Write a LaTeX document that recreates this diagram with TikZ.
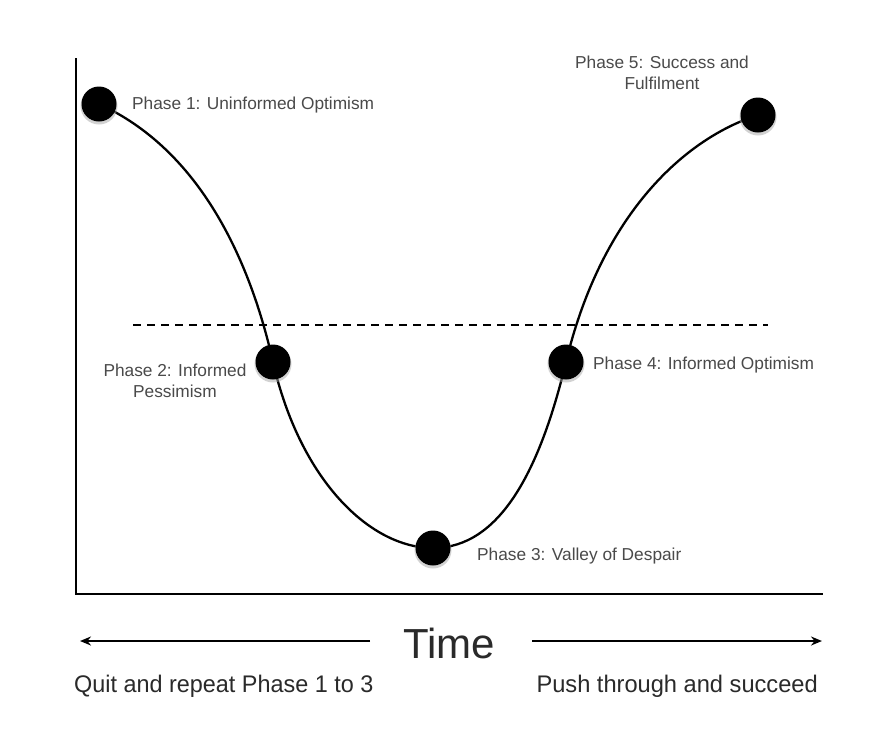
\documentclass[tikz,border=0pt]{standalone}
\usepackage{fontspec}
\setmainfont{Liberation Sans}
\usetikzlibrary{arrows.meta}
\definecolor{lbl}{HTML}{4A4A4A}
\definecolor{bot}{HTML}{2A2A2A}
\tikzset{
  dot/.style={circle,fill=black,inner sep=0pt,minimum size=35pt},
  shade/.style={circle,fill=black!35,inner sep=0pt,minimum size=37pt,opacity=0.5},
  phlabel/.style={text=lbl,font=\fontsize{17.3}{21}\selectfont,inner sep=0pt},
  axis/.style={line width=2.4pt},
  curve/.style={line width=2.3pt},
  arr/.style={line width=2.6pt,-{Stealth[length=11pt,width=9pt]}},
  botlabel/.style={text=bot,inner sep=0pt}
}
\begin{document}
\begin{tikzpicture}[x=1pt,y=-1pt]
\useasboundingbox[fill=white] (0,0) rectangle (880,750);
% axes
\coordinate (ytop) at (76,58);
\coordinate (orig) at (76,594);
\coordinate (xend) at (823,594);
\draw[axis] (ytop) -- (orig) -- (xend);
% dashed reference line
\coordinate (dl) at (133,325);
\coordinate (dr) at (768,325);
\draw[line width=2.6pt,dash pattern=on 8pt off 6pt] (dl) -- (dr);
% phase coordinates
\coordinate (c1) at (99,104);
\coordinate (c2) at (273,362);
\coordinate (c3) at (433,548);
\coordinate (c4) at (566,362);
\coordinate (c5) at (758,115);
% curve
\draw[curve] (c1) .. controls (200,150) and (250,260) .. (c2)
  .. controls (300,480) and (370,548) .. (c3)
  .. controls (500,548) and (540,470) .. (c4)
  .. controls (600,220) and (680,140) .. (c5);
% dots
\foreach \c in {c1,c2,c3,c4,c5}{\node[shade] at ([yshift=-2pt]\c) {};}
\node[dot] (p1) at (c1) {};
\node[dot] (p2) at (c2) {};
\node[dot] (p3) at (c3) {};
\node[dot] (p4) at (c4) {};
\node[dot] (p5) at (c5) {};
% labels
\node[phlabel,anchor=west] (l1) at (132,105) {Phase 1: Uninformed Optimism};
\node[phlabel,align=center] (l2) at (175,381) {Phase 2: Informed\\Pessimism};
\node[phlabel,anchor=west] (l3) at (477,556) {Phase 3: Valley of Despair};
\node[phlabel,anchor=west] (l4) at (593,365) {Phase 4: Informed Optimism};
\node[phlabel,align=center] (l5) at (662,73) {Phase 5: Success and\\Fulfilment};
% time
\node[botlabel,font=\fontsize{42}{46}\selectfont] (time) at (449,643) {Time};
\coordinate (la) at (80,641);
\coordinate (ra) at (822,641);
\coordinate (ls) at (370,641);
\coordinate (rs) at (532,641);
\draw[arr] (ls) -- (la);
\draw[arr] (rs) -- (ra);
\node[botlabel,anchor=west,font=\fontsize{24}{28}\selectfont] (q) at (74,686) {\scalebox{0.975}[1]{Quit and repeat Phase 1 to 3}};
\node[botlabel,anchor=east,font=\fontsize{24}{28}\selectfont] (s) at (818,686) {\scalebox{0.985}[1]{Push through and succeed}};
\end{tikzpicture}
\end{document}
